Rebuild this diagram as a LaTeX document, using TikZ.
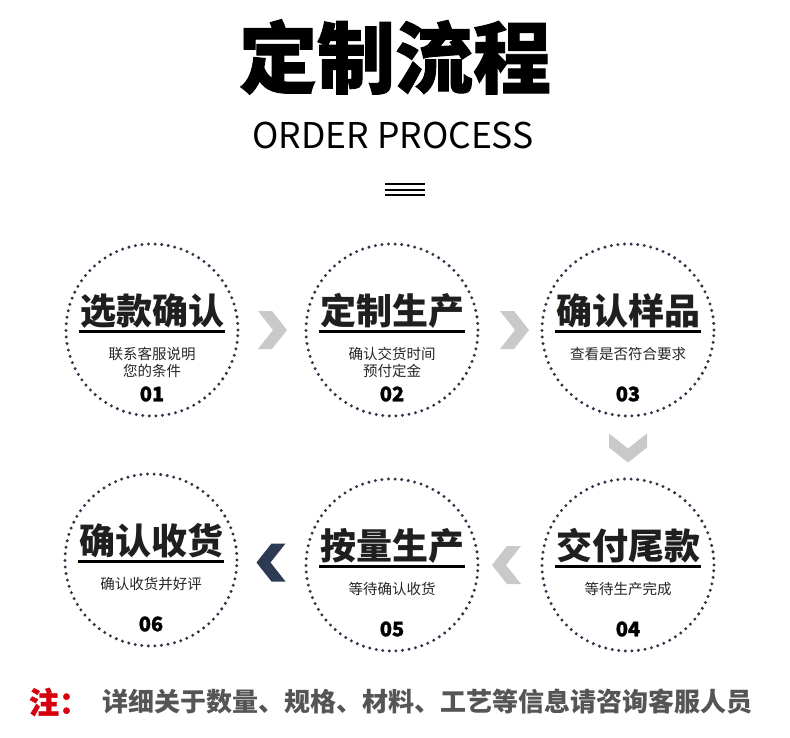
\documentclass[tikz,border=0pt]{standalone}
\usepackage{fontspec}
\newfontfamily\cjk{Noto Sans CJK SC}
\newfontfamily\cjkblack{Noto Sans CJK SC}[BoldFeatures={FakeBold=1.2}]
\usetikzlibrary{calc,positioning}
\definecolor{dotnavy}{HTML}{2E3446}
\definecolor{chevgray}{HTML}{C9C9C9}
\definecolor{chevnavy}{HTML}{2C3A52}
\definecolor{notered}{HTML}{D7000F}
\definecolor{notegray}{HTML}{555555}

\tikzset{
  stepring/.style={circle, minimum size=172pt, inner sep=0pt, draw=dotnavy,
    line width=3.3pt, dash pattern=on 0pt off 6.6pt, line cap=round},
  steptitle/.style={font=\cjk\bfseries\fontsize{36}{36}\selectfont, text=black!88, inner sep=0pt},
  stepnote/.style={font=\cjk\fontsize{14.5}{16.5}\selectfont, text=black!85, align=center,
    inner sep=0pt, anchor=north},
  stepnum/.style={font=\cjkblack\bfseries\fontsize{20}{20}\selectfont, inner sep=0pt},
  chevron/.pic={\fill (-14,-19) -- (0,-19) -- (15,0) -- (0,19) -- (-14,19) -- (1,0) -- cycle;}
}

\begin{document}
\begin{tikzpicture}[x=1pt, y=-1pt]
   \path[use as bounding box, fill=white] (0,0) rectangle (790,737);

   % heading
   \node (title) at (395,57) {\cjkblack\bfseries\fontsize{78}{78}\selectfont 定制流程};
   \node (subtitle) at (393,135) {\cjk\fontsize{35.5}{36}\selectfont ORDER PROCESS};
   \foreach \y in {184,189.5,195}
     \draw[line width=2pt] (385,\y) -- (425,\y);

   % steps
   \foreach \n/\x/\y/\head/\note/\num in {
      1/152/330/选款确认/{联系客服说明\\您的条件}/01,
      2/392/330/定制生产/{确认交货时间\\预付定金}/02,
      3/628/330/确认样品/{查看是否符合要求}/03,
      4/628/565/交付尾款/{等待生产完成}/04,
      5/392/565/按量生产/{等待确认收货}/05,
      6/151/560/确认收货/{确认收货并好评}/06} {
     \node (c\n) [stepring] at (\x,\y) {};
     \node (t\n) [steptitle] at ($(c\n)+(0,-19)$) {\head};
     \draw[line width=3pt] ($(c\n)+(-73,1)$) -- ($(c\n)+(73,1)$);
     \node (d\n) [stepnote] at ($(c\n)+(0,17)$) {\note};
     \node (n\n) [stepnum] at ($(c\n)+(0,64)$) {\num};
   }

   % arrows between steps
   \pic[chevgray] at ($(c1)!0.5!(c2)$) {chevron};
   \pic[chevgray] at ($(c2)!0.5!(c3)+(4,0)$) {chevron};
   \pic[chevgray, rotate=-90] at ($(c3)!0.5!(c4)$) {chevron};
   \pic[chevgray, rotate=180] at ($(c5)!0.5!(c4)+(-3,0)$) {chevron};
   \pic[chevnavy, rotate=180] at ($(c6)!0.5!(c5)$) {chevron};

   % footnote
   \node (notemark) at (59,702) {\cjkblack\bfseries\fontsize{30}{30}\selectfont\color{notered}注：};
   \node (notetext) [anchor=west] at (99,702)
     {\cjk\bfseries\fontsize{26}{26}\selectfont\color{notegray}详细关于数量、规格、材料、工艺等信息请咨询客服人员};
\end{tikzpicture}
\end{document}
